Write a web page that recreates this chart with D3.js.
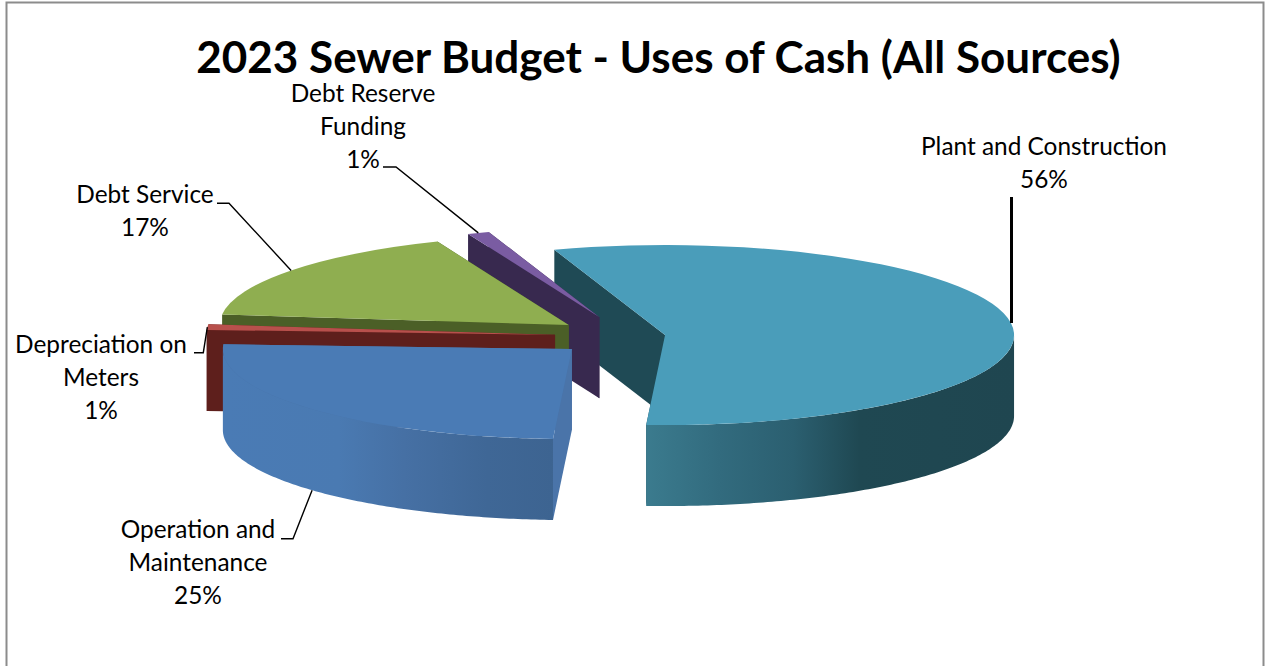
<!DOCTYPE html>
<html>
<head>
<meta charset="utf-8">
<script src="https://cdn.jsdelivr.net/npm/d3@7"></script>
<style>
  html, body { margin: 0; padding: 0; background: #fff; overflow: hidden; }
  svg { display: block; }
  text { font-family: Lato, "Open Sans", sans-serif; fill: #000; }
</style>
</head>
<body>
<svg id="chart" width="1268" height="666"></svg>
<script>
// Budget shares, in the order they run clockwise round the pie
const categories = ["Plant and Construction", "Operation and Maintenance", "Depreciation on Meters", "Debt Service", "Debt Reserve Funding"];
const shares = [56, 25, 1, 17, 1];
const chartTitle = "2023 Sewer Budget - Uses of Cash (All Sources)";

// Slice colours: top face, cut faces, rim shading from left to right
const topColors = ["#4a9dba", "#4a7bb5", "#b8504c", "#8fae50", "#7a5ca2"];
const cutColors = ["#1f4a55", "#4a74a9", "#5e1f1c", "#4b5f27", "#38294f"];
const rimStops = [
  [[0, "#3b7b8e"], [0.2, "#326b7e"], [0.4, "#2b5f70"], [0.58, "#1f4852"], [1, "#1f4650"]],
  [[0, "#4a7bb5"], [0.35, "#4a7ab2"], [0.55, "#4670a4"], [0.8, "#3f6796"], [1, "#3d6491"]],
  [[0, "#5e1f1c"], [1, "#5e1f1c"]],
  [[0, "#4b5f27"], [1, "#4b5f27"]],
  [[0, "#38294f"], [1, "#38294f"]]
];

// Back-to-front painting order of the slices
const paintOrder = [0, 4, 3, 2, 1];

// How far each slice is pulled out of the pie
const explosions = [38.6, 73.8, 72, 73, 79];

// Label placement: wrapped lines, centre x, first baseline, leader elbow path
const labelLines = [
  ["Plant and Construction", "56%"],
  ["Operation and", "Maintenance", "25%"],
  ["Depreciation on", "Meters", "1%"],
  ["Debt Service", "17%"],
  ["Debt Reserve", "Funding", "1%"]
];
const labelX = [1044, 198, 101, 145, 363];
const labelY = [155, 538, 352.7, 202.7, 101.7];
const leaderElbows = [
  [[1011.5, 197]],
  [[281, 538.7], [293, 538.7]],
  [[194, 352.7], [203.3, 352.7]],
  [[217, 203.3], [229, 203.3]],
  [[383, 167], [396, 167]]
];
const leaderWidths = [3, 1.4, 1.4, 1.4, 1.4];

// Pie projection
const rx = 349, ry = 90, depth = 81;
const centre = [626.8, 336.4];
const startAngle = -18.5 * Math.PI / 180;

const svg = d3.select("#chart");
const defs = svg.append("defs");

// Chart frame, open at the bottom edge of the page
svg.append("path")
  .attr("d", d3.line()([[6.5, 670], [6.5, 2.5], [1263.5, 2.5], [1263.5, 670]]))
  .attr("fill", "none").attr("stroke", "#8c8c8c").attr("stroke-width", 2);

const pie = d3.pie().sort(null).startAngle(startAngle).endAngle(startAngle + 2 * Math.PI);
const arcs = pie(shares);
const apexOf = (d, i) => {
  const mid = (d.startAngle + d.endAngle) / 2;
  return [centre[0] + explosions[i] * Math.sin(mid), centre[1] - explosions[i] * (ry / rx) * Math.cos(mid)];
};
const rimPoint = (apex, a, drop = 0) => [apex[0] + rx * Math.sin(a), apex[1] - ry * Math.cos(a) + drop];
const line = d3.line();
const topArc = d3.arc().innerRadius(0).outerRadius(rx);

const pies = svg.append("g");
paintOrder.forEach(i => {
  const d = arcs[i], apex = apexOf(d, i);
  const g = pies.append("g").attr("class", "slice");

  // Radial cut faces
  [d.endAngle, d.startAngle].forEach(a => {
    const p = rimPoint(apex, a);
    g.append("path")
      .attr("d", line([apex, p, [p[0], p[1] + depth], [apex[0], apex[1] + depth]]) + "Z")
      .attr("fill", cutColors[i]);
  });

  // Outer rim, only where it faces the front
  const from = Math.max(d.startAngle, Math.PI / 2), to = Math.min(d.endAngle, 3 * Math.PI / 2);
  if (to > from) {
    const angles = d3.range(0, 121).map(k => from + (to - from) * k / 120);
    const upper = angles.map(a => rimPoint(apex, a));
    const lower = angles.map(a => rimPoint(apex, a, depth)).reverse();
    const grad = defs.append("linearGradient").attr("id", "rim" + i)
      .attr("gradientUnits", "objectBoundingBox");
    rimStops[i].forEach(s => grad.append("stop").attr("offset", s[0]).attr("stop-color", s[1]));
    g.append("path").attr("d", line(upper.concat(lower)) + "Z").attr("fill", `url(#rim${i})`);
  }

  // Top face: a flat arc squashed into an ellipse
  g.append("path")
    .attr("transform", `translate(${apex[0]},${apex[1]}) scale(1,${ry / rx})`)
    .attr("d", topArc(d))
    .attr("fill", topColors[i]);
});

// Leader lines run from the elbows to the rim at the slice's middle angle
arcs.forEach((d, i) => {
  const apex = apexOf(d, i);
  const mid = (d.startAngle + d.endAngle) / 2;
  const frontFacing = Math.cos(mid) < -0.3;
  const end = rimPoint(apex, mid, frontFacing ? depth : 0);
  const elbows = leaderElbows[i];
  const pts = i === 0 ? [elbows[0], [elbows[0][0], end[1]]] : elbows.concat([end]);
  svg.append("path").attr("class", "leader")
    .attr("d", line(pts))
    .attr("fill", "none").attr("stroke", "#000").attr("stroke-width", leaderWidths[i]);
});

// Data labels
labelLines.forEach((lines, i) => {
  const t = svg.append("text").attr("text-anchor", "middle").attr("font-size", 24.4);
  lines.forEach((s, k) => t.append("tspan").attr("x", labelX[i]).attr("y", labelY[i] + k * 32.9).text(s));
});

// Title
svg.append("text").attr("x", 658.5).attr("y", 73).attr("text-anchor", "middle")
  .attr("font-size", 44).attr("font-weight", 700).text(chartTitle);
</script>
</body>
</html>
